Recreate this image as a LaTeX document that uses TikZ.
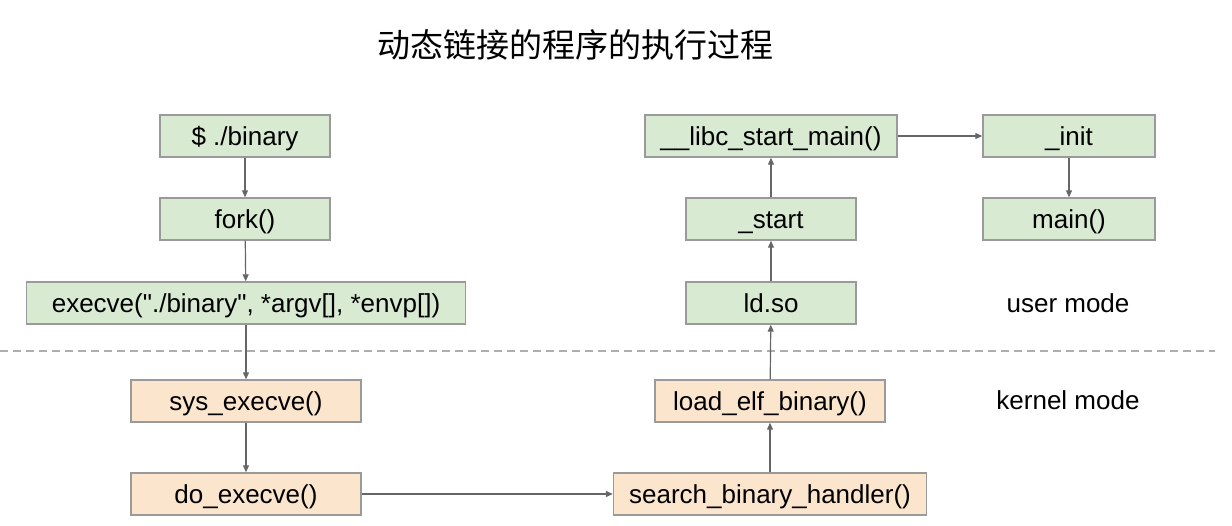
\documentclass[tikz,border=0pt]{standalone}
\usepackage{fontspec}
\setmainfont{Liberation Sans}
\newfontfamily\cjk{Noto Sans CJK SC}
\usepackage{xcolor}
\usetikzlibrary{arrows.meta, positioning}

\definecolor{usergreen}{HTML}{D9EAD3}
\definecolor{kernorange}{HTML}{FCE5CD}
\definecolor{boxline}{HTML}{9A9A9A}
\definecolor{arrowgray}{HTML}{666666}

\tikzset{
  ubox/.style={draw=boxline, line width=1.4pt, fill=usergreen, minimum height=42pt,
    inner sep=0pt, text height=20pt, text depth=2pt, font=\fontsize{26}{29}\selectfont},
  kbox/.style={ubox, fill=kernorange},
  flow/.style={draw=arrowgray, line width=1.2pt, -{Triangle[length=7pt, width=6pt]}}
}

\begin{document}
\begin{tikzpicture}[x=1pt, y=-1pt]
        \useasboundingbox (0,0) rectangle (1232,525);
        % title
        \node (title) at (575,45) {\cjk\fontsize{33}{36}\selectfont 动态链接的程序的执行过程};
        % user mode boxes
        \node[ubox, minimum width=170pt] (shell) at (245,136) {\$ ./binary};
        \node[ubox, minimum width=170pt] (fork) at (245,219) {fork()};
        \node[ubox, minimum width=439pt] (execve) at (246,303)
          {execve(\textquotedbl./binary\textquotedbl, *argv[], *envp[])};
        \node[ubox, minimum width=170pt] (ldso) at (771,303) {ld.so};
        \node[ubox, minimum width=170pt] (start) at (771,219) {\_start};
        \node[ubox, minimum width=252pt] (libc) at (771,136) {\_\_libc\_start\_main()};
        \node[ubox, minimum width=172pt] (init) at (1069,136) {\_init};
        \node[ubox, minimum width=172pt] (main) at (1069,219) {main()};
        % kernel mode boxes
        \node[kbox, minimum width=230pt] (sysexec) at (246,401) {sys\_execve()};
        \node[kbox, minimum width=230pt] (doexec) at (246,494) {do\_execve()};
        \node[kbox, minimum width=313pt] (search) at (770,494) {search\_binary\_handler()};
        \node[kbox, minimum width=230pt] (loadelf) at (770,401) {load\_elf\_binary()};
        % mode labels
        \node[font=\fontsize{26}{29}\selectfont] (umode) at (1068,303) {user mode};
        \node[font=\fontsize{26}{29}\selectfont] (kmode) at (1068,400) {kernel mode};
        % boundary between user and kernel mode
        \coordinate (sepL) at (0,351);
        \coordinate (sepR) at (1215,351);
        \draw[boxline!80, line width=1.3pt, dash pattern=on 8pt off 5pt] (sepL) -- (sepR);
        % call flow
        \draw[flow] (shell) -- (fork);
        \draw[flow] (fork) -- (execve);
        \draw[flow] (execve) -- (sysexec);
        \draw[flow] (sysexec) -- (doexec);
        \draw[flow] (doexec) -- (search);
        \draw[flow] (search) -- (loadelf);
        \draw[flow] (loadelf) -- (ldso);
        \draw[flow] (ldso) -- (start);
        \draw[flow] (start) -- (libc);
        \draw[flow] (libc) -- (init);
        \draw[flow] (init) -- (main);
      \end{tikzpicture}
\end{document}
